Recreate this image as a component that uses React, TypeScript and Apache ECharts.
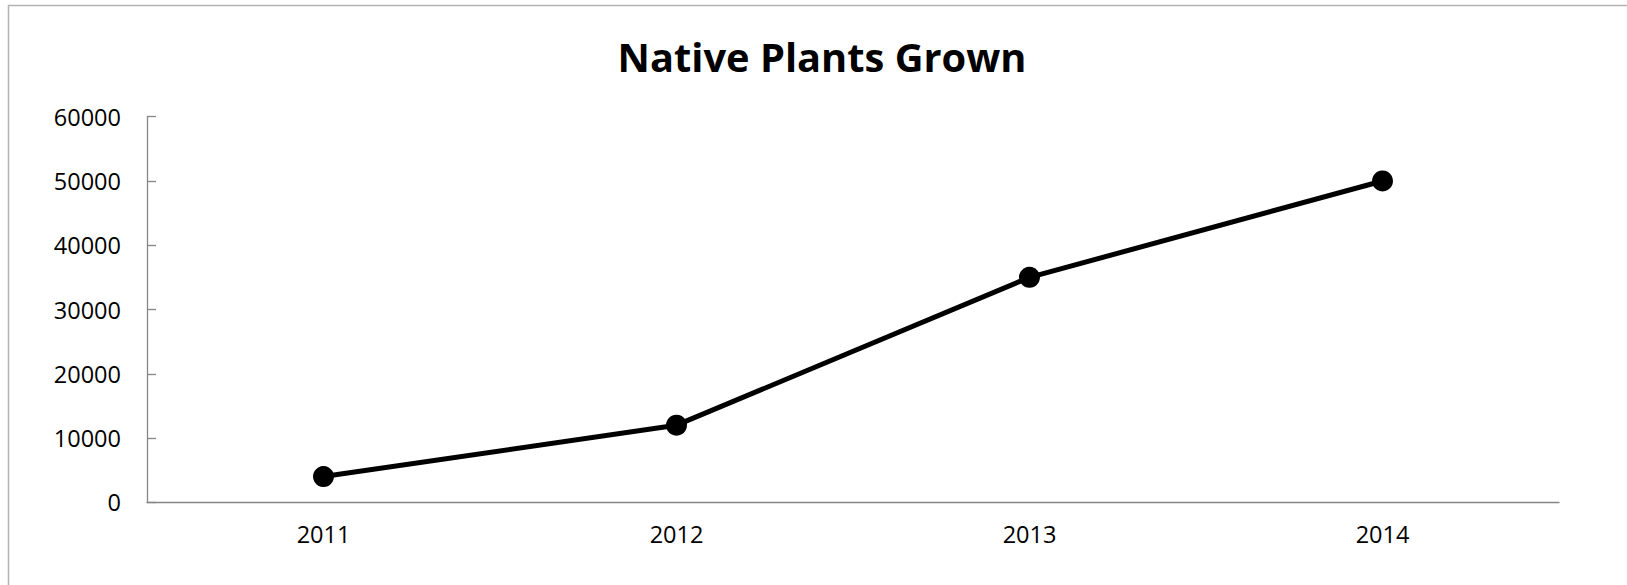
import React, { useEffect, useRef } from "react";
import * as echarts from "echarts";

const title = "Native Plants Grown";
const years = ["2011", "2012", "2013", "2014"];
const plantsGrown = [4000, 12000, 35000, 50000];
const yMin = 0;
const yMax = 60000;
const yStep = 10000;

export default function App() {
  const ref = useRef<HTMLDivElement>(null);
  useEffect(() => {
    if (!ref.current) return;
    const chart = echarts.init(ref.current, null, { renderer: "svg" });
    chart.setOption({
      animation: false,
      backgroundColor: "#ffffff",
      title: {
        text: title,
        left: 817,
        top: 31,
        textAlign: "center",
        textStyle: {
          fontFamily: "Open Sans",
          fontWeight: "bold",
          fontSize: 39.8,
          color: "#000000",
        },
      },
      graphic: [
        {
          type: "polyline",
          shape: { points: [[8.5, 600], [8.5, 5.5], [1640, 5.5]] },
          style: { stroke: "#b3b3b3", lineWidth: 1.5, fill: "none" },
          silent: true,
        },
      ],
      grid: { left: 147, top: 116.7, right: 68, bottom: 82.7, containLabel: false },
      xAxis: {
        type: "category",
        data: years,
        boundaryGap: true,
        axisLine: { show: true, lineStyle: { color: "#868686", width: 1.3 } },
        axisTick: { show: false },
        axisLabel: {
          color: "#000000",
          fontFamily: "Open Sans",
          fontSize: 23.5,
          margin: 20,
        },
        splitLine: { show: false },
      },
      yAxis: {
        type: "value",
        min: yMin,
        max: yMax,
        interval: yStep,
        axisLine: { show: true, lineStyle: { color: "#868686", width: 1.3 } },
        axisTick: { show: true, inside: true, length: 9, lineStyle: { color: "#868686", width: 1.3 } },
        axisLabel: {
          color: "#000000",
          fontFamily: "Open Sans",
          fontSize: 23.5,
          margin: 26,
          formatter: (v: number) => String(v),
        },
        splitLine: { show: false },
      },
      series: [
        {
          type: "line",
          data: plantsGrown,
          symbol: "circle",
          symbolSize: 21,
          lineStyle: { color: "#000000", width: 5 },
          itemStyle: { color: "#000000" },
        },
      ],
    });
    return () => chart.dispose();
  }, []);
  return (
    <div
      ref={ref}
      style={{ position: "fixed", left: 0, top: 0, width: 1627, height: 585 }}
    />
  );
}
